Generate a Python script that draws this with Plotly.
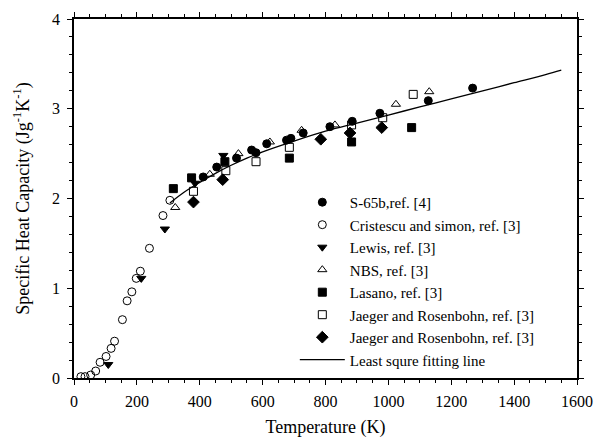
import plotly.graph_objects as go

# S-65b, ref. [4]
s65_T = [411, 454, 517, 565, 579, 613, 676, 690, 729, 814, 885, 973, 1127, 1268]
s65_Cp = [2.24, 2.35, 2.45, 2.54, 2.51, 2.61, 2.65, 2.67, 2.73, 2.80, 2.86, 2.95, 3.09, 3.23]

# Cristescu and simon, ref. [3]
cri_T = [22, 35, 53, 69, 83, 102, 118, 129, 154, 169, 184, 198, 211, 240, 283, 305]
cri_Cp = [0.015, 0.015, 0.033, 0.078, 0.175, 0.24, 0.33, 0.41, 0.65, 0.86, 0.96, 1.11, 1.19, 1.445, 1.81, 1.98]

# Lewis, ref. [3]
lew_T = [109, 214, 289, 385, 475]
lew_Cp = [0.15, 1.11, 1.66, 2.17, 2.48]

# NBS, ref. [3]
nbs_T = [322, 432, 523, 623, 724, 830, 1024, 1130]
nbs_Cp = [1.90, 2.27, 2.50, 2.63, 2.76, 2.82, 3.05, 3.19]

# Lasano, ref. [3]
las_T = [316, 374, 480, 685, 883, 1074]
las_Cp = [2.11, 2.23, 2.41, 2.45, 2.63, 2.79]

# Jaeger and Rosenbohn, ref. [3] (open squares)
jr1_T = [380, 483, 579, 685, 883, 982, 1079]
jr1_Cp = [2.08, 2.31, 2.41, 2.57, 2.82, 2.90, 3.16]

# Jaeger and Rosenbohn, ref. [3] (diamonds)
jr2_T = [380, 473, 785, 878, 979]
jr2_Cp = [1.96, 2.21, 2.66, 2.73, 2.79]

# Least squre fitting line
fit_T = [305, 350, 400, 450, 500, 550, 600, 700, 800, 900, 1000, 1100, 1200, 1300, 1400, 1500, 1550]
fit_Cp = [1.95, 2.07, 2.18, 2.28, 2.37, 2.45, 2.52, 2.64, 2.75, 2.84, 2.93, 3.02, 3.11, 3.20, 3.29, 3.38, 3.43]

FONT = "Liberation Serif, Times New Roman, serif"
blk = "black"

fig = go.Figure()

def add_pts(x, y, name, symbol, size=8):
    fig.add_trace(go.Scatter(
        x=x, y=y, mode="markers", name=name,
        marker=dict(symbol=symbol, size=size, color=blk,
                    line=dict(color=blk, width=1))))

add_pts(s65_T, s65_Cp, "S-65b,ref. [4]", "circle")
add_pts(cri_T, cri_Cp, "Cristescu and simon, ref. [3]", "circle-open")
add_pts(lew_T, lew_Cp, "Lewis, ref. [3]", "triangle-down")
add_pts(nbs_T, nbs_Cp, "NBS, ref. [3]", "triangle-up-open")
add_pts(las_T, las_Cp, "Lasano, ref. [3]", "square")
add_pts(jr1_T, jr1_Cp, "Jaeger and Rosenbohn, ref. [3]", "square-open")
add_pts(jr2_T, jr2_Cp, "Jaeger and Rosenbohn, ref. [3]", "diamond", 9)

fig.add_trace(go.Scatter(x=fit_T, y=fit_Cp, mode="lines", name="Least squre fitting line",
                         line=dict(color=blk, width=1.3, shape="spline")))

axis_common = dict(
    showline=True, linecolor=blk, linewidth=1.5, mirror="ticks",
    ticks="outside", ticklen=5, tickwidth=1.2, tickcolor=blk,
    showgrid=False, zeroline=False, automargin=False,
    tickfont=dict(family=FONT, size=16, color=blk),
)

fig.update_layout(
    width=597, height=448,
    margin=dict(l=74, r=20, t=19, b=70),
    paper_bgcolor="white", plot_bgcolor="white",
    font=dict(family=FONT, size=16, color=blk),
    showlegend=True,
    legend=dict(x=0.439, y=0.535, xanchor="left", yanchor="top",
                bgcolor="rgba(0,0,0,0)", font=dict(family=FONT, size=15, color=blk),
                itemwidth=45, tracegroupgap=0),
    xaxis=dict(range=[0, 1600], tickvals=[0, 200, 400, 600, 800, 1000, 1200, 1400, 1600],
               minor=dict(ticks="outside", dtick=50, ticklen=3, tickcolor=blk),
               ticklabelstandoff=3,
               title=dict(text="Temperature (K)", font=dict(family=FONT, size=18, color=blk), standoff=11),
               **axis_common),
    yaxis=dict(range=[0, 4], tickvals=[0, 1, 2, 3, 4],
               minor=dict(ticks="outside", dtick=0.2, ticklen=3, tickcolor=blk),
               ticklabelstandoff=4,
               title=dict(text="Specific Heat Capacity (Jg<sup>-1</sup>K<sup>-1</sup>)",
                          font=dict(family=FONT, size=18, color=blk), standoff=18),
               **axis_common),
)

fig.write_html("out.html")
